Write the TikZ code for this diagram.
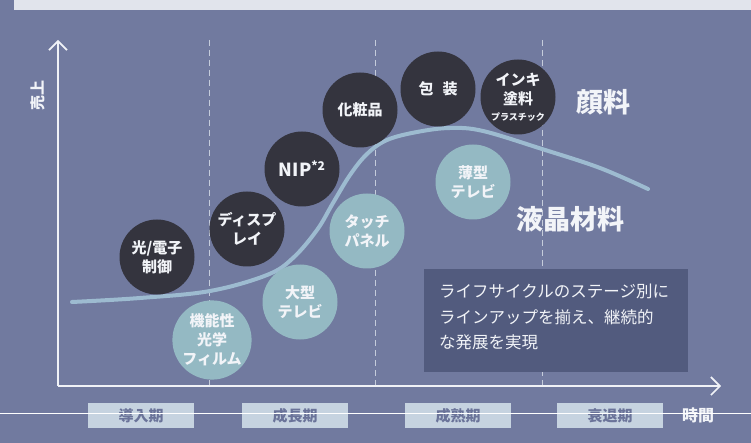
\documentclass[tikz,border=0pt]{standalone}
\usepackage{fontspec}
\setmainfont{Noto Sans CJK JP}
\usetikzlibrary{arrows.meta}
\definecolor{bgc}{HTML}{717A9F}
\definecolor{topc}{HTML}{E1E4EC}
\definecolor{darkc}{HTML}{34343E}
\definecolor{tealc}{HTML}{94B9C3}
\definecolor{curvec}{HTML}{9DBBD0}
\definecolor{axisc}{HTML}{F0F2F7}
\definecolor{dashc}{HTML}{C5CCDB}
\definecolor{boxc}{HTML}{525B7E}
\definecolor{stagec}{HTML}{C6D3E0}
\definecolor{stagetxt}{HTML}{6A7399}
\definecolor{txtc}{HTML}{F2F4F8}
\tikzset{
  dcirc/.style={circle,fill=darkc,minimum size=75pt,inner sep=0pt,text=txtc,font=\fontsize{15}{19}\selectfont\bfseries,align=center},
  tcirc/.style={circle,fill=tealc,minimum size=75pt,inner sep=0pt,text=txtc,font=\fontsize{15}{19}\selectfont\bfseries,align=center},
  stagebox/.style={fill=stagec,minimum width=106pt,minimum height=25pt,inner sep=0pt,text=stagetxt,font=\fontsize{15}{17}\selectfont\bfseries},
  biglabel/.style={text=txtc,font=\fontsize{27}{29}\selectfont\bfseries},
  dashline/.style={dashc,dashed,dash pattern=on 6pt off 4pt,line width=1pt},
  axisline/.style={axisc,line width=1.6pt,-{Straight Barb[length=9pt,width=18pt,line width=1.6pt]}}
}
\begin{document}
\begin{tikzpicture}[x=1pt,y=-1pt]
\useasboundingbox (0,0) rectangle (751,443);
\fill[bgc] (0,0) rectangle (751,443);
\fill[topc] (14,0) rectangle (751,10);
% dashed stage separators
\coordinate (d1t) at (209,40); \coordinate (d1b) at (209,386);
\coordinate (d2t) at (375,40); \coordinate (d2b) at (375,386);
\coordinate (d3t) at (542,40); \coordinate (d3b) at (542,386);
\draw[dashline] (d1t) -- (d1b);
\draw[dashline] (d2t) -- (d2b);
\draw[dashline] (d3t) -- (d3b);
% axes
\coordinate (o) at (58,386);
\coordinate (ytop) at (58,40);
\coordinate (xend) at (721,386);
\draw[axisline] (o) -- (ytop);
\draw[axisline] (o) -- (xend);
% curve
\draw[curvec,line width=4pt,line cap=round] plot[smooth,tension=0.6] coordinates {
 (72,302) (140,298) (210,291) (267,275) (293,258) (317,230) (333,203) (350,175) (367,154) (387,140) (417,132) (450,128) (483,131) (542,149) (600,168) (648,189)};
% circles
\node[dcirc] (c1) at (157,257) {光/電子\\制御};
\node[dcirc] (c2) at (247,229) {ディスプ\\レイ};
\node[dcirc] (c3) at (302,169) {{\fontsize{18}{20}\selectfont NIP}{\fontsize{12}{14}\selectfont\raisebox{6pt}{*2}}};
\node[dcirc] (c4) at (360,110) {化粧品};
\node[dcirc] (c5) at (438,89) {包\hspace{0.6em}装};
\node[dcirc] (c6) at (518,97) {インキ\\塗料\\[-3pt]{\fontsize{9}{11}\selectfont プラスチック}};
\node[tcirc] (t1) at (212,340) {機能性\\光学\\フィルム};
\node[tcirc] (t2) at (300,302) {大型\\テレビ};
\node[tcirc] (t3) at (367,231) {タッチ\\パネル};
\node[tcirc] (t4) at (473,182) {薄型\\テレビ};
% big labels
\node[biglabel] (l1) at (603,102) {顔料};
\node[biglabel] (l2) at (570,219) {液晶材料};
% info box
\node[fill=boxc,minimum width=264pt,minimum height=103pt,inner sep=0pt] (ib) at (556,320.5) {};
\node[anchor=north west,inner sep=0pt,text=txtc,align=left,font=\fontsize{16.5}{25.5}\selectfont] (ibt) at (439,284) {ライフサイクルのステージ別に\\ラインアップを揃え、継続的\\な発展を実現};
% axis labels
\node[rotate=90,text=txtc,font=\fontsize{15}{17}\selectfont\bfseries] (ylab) at (38,96) {売上};
% stage boxes
\node[stagebox] (s1) at (141,415.5) {導入期};
\node[stagebox] (s2) at (295,415.5) {成長期};
\node[stagebox] (s3) at (458,415.5) {成熟期};
\node[stagebox] (s4) at (610,415.5) {衰退期};
\node[text=txtc,font=\fontsize{16}{18}\selectfont\bfseries] (tl) at (698,415.5) {時間};
\coordinate (hl) at (0,413); \coordinate (hr) at (751,413);
\draw[white,line width=1pt] (hl) -- (hr);
\end{tikzpicture}
\end{document}
